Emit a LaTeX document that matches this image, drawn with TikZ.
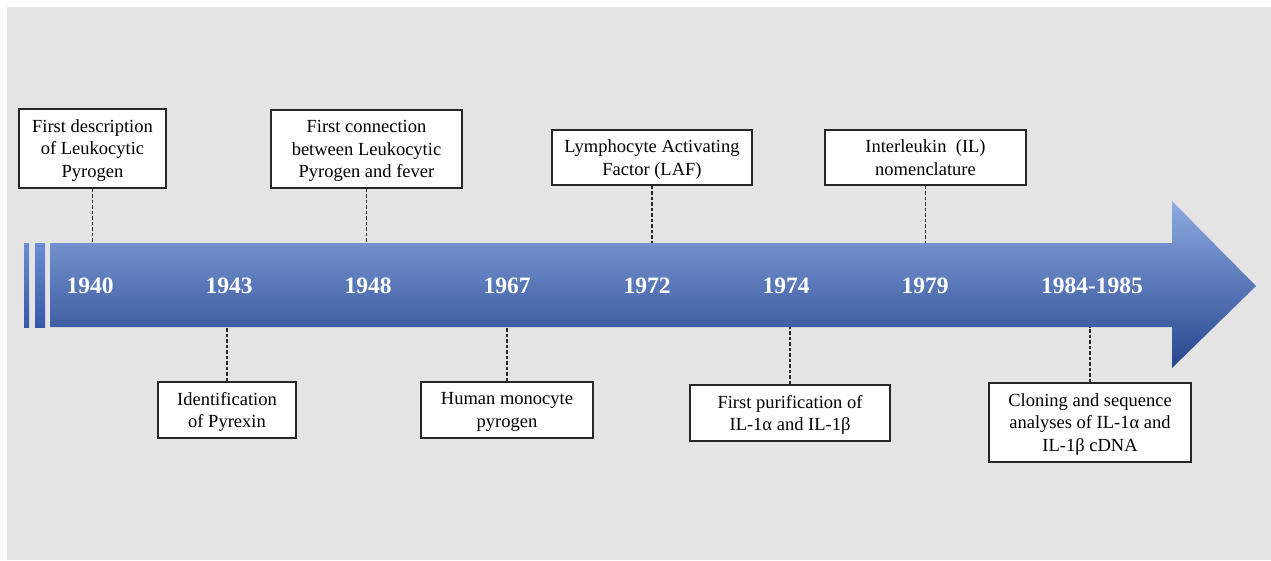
\documentclass[tikz,border=0pt]{standalone}
\usepackage{fontspec}
\setmainfont{Liberation Serif}
\begin{document}
\begin{tikzpicture}[x=1pt,y=-1pt,
  evbox/.style={draw=black!85,line width=1.3pt,fill=white,inner sep=0pt,align=center,
    text depth=0pt,font=\fontsize{18.5}{22.5}\selectfont},
  yearlbl/.style={text=white,font=\fontsize{23.5}{26}\selectfont\bfseries,inner sep=0pt},
  link/.style={draw=black!85,line width=1.3pt,dash pattern=on 3.5pt off 2pt}]
\useasboundingbox (0,0) rectangle (1271,560);
\fill[white] (0,0) rectangle (1271,560);
\fill[fill={rgb,255:red,228;green,228;blue,228}] (7,7) rectangle (1271,560);
% stripes
\shade[top color={rgb,255:red,106;green,141;blue,212},bottom color={rgb,255:red,54;green,88;blue,168}]
  (24,243) rectangle (29,327);
\shade[top color={rgb,255:red,106;green,141;blue,212},bottom color={rgb,255:red,54;green,88;blue,168}]
  (35,243) rectangle (45,327);
% arrow
\shade[top color={rgb,255:red,142;green,170;blue,226},middle color={rgb,255:red,68;green,108;blue,200},
  bottom color={rgb,255:red,38;green,70;blue,142}]
  (50,243) -- (1172,243) -- (1172,201) -- (1256,286) -- (1172,368) -- (1172,327) -- (50,327) -- cycle;
% years
\node[yearlbl] at (90,286) {1940};
\node[yearlbl] at (229,286) {1943};
\node[yearlbl] at (368,286) {1948};
\node[yearlbl] at (507,286) {1967};
\node[yearlbl] at (647,286) {1972};
\node[yearlbl] at (786,286) {1974};
\node[yearlbl] at (925,286) {1979};
\node[yearlbl] at (1092,286) {1984-1985};
% top boxes
\node[evbox,minimum width=147pt,minimum height=79pt] (b1) at (92.5,148.5)
  {First description\\of Leukocytic\\Pyrogen};
\node[evbox,minimum width=191pt,minimum height=78pt] (b2) at (366.5,149)
  {First connection\\between Leukocytic\\Pyrogen and fever};
\node[evbox,minimum width=200pt,minimum height=55pt] (b3) at (652,157.5)
  {Lymphocyte Activating\\Factor (LAF)};
\node[evbox,minimum width=201pt,minimum height=55pt] (b4) at (925.5,157.5)
  {Interleukin~~(IL)\\nomenclature};
% bottom boxes
\node[evbox,minimum width=138pt,minimum height=56pt] (b5) at (227,410)
  {Identification\\of Pyrexin};
\node[evbox,minimum width=172pt,minimum height=56pt] (b6) at (507,410)
  {Human monocyte\\pyrogen};
\node[evbox,minimum width=200pt,minimum height=56pt] (b7) at (790,413)
  {First purification of\\IL-1α and IL-1β};
\node[evbox,minimum width=202pt,minimum height=79pt] (b8) at (1090,422.5)
  {Cloning and sequence\\analyses of IL-1α and\\IL-1β cDNA};
% connectors
\coordinate (top) at (0,243);
\coordinate (bot) at (0,327);
\draw[link] (b1.south) -- (b1.south |- top);
\draw[link] (b2.south) -- (b2.south |- top);
\draw[link] (b3.south) -- (b3.south |- top);
\draw[link] (b4.south) -- (b4.south |- top);
\draw[link] (b5.north) -- (b5.north |- bot);
\draw[link] (b6.north) -- (b6.north |- bot);
\draw[link] (b7.north) -- (b7.north |- bot);
\draw[link] (b8.north) -- (b8.north |- bot);
\end{tikzpicture}
\end{document}
